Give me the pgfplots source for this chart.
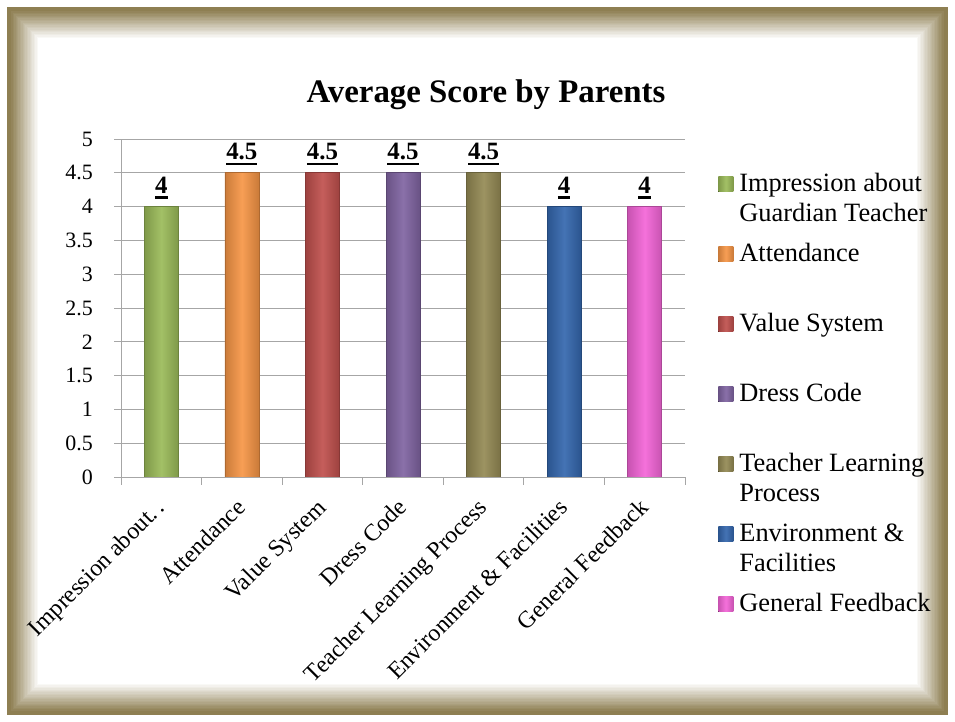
\documentclass[border=0pt]{standalone}
\usepackage{fontspec}
\setmainfont{Liberation Serif}
\usepackage{pgfplots}
\pgfplotsset{compat=1.18}
\definecolor{frame}{HTML}{8E7F52}
\definecolor{cimp}{HTML}{9BBB59}
\definecolor{catt}{HTML}{F79646}
\definecolor{cval}{HTML}{C0504D}
\definecolor{cdre}{HTML}{8064A2}
\definecolor{ctea}{HTML}{948A54}
\definecolor{cenv}{HTML}{3467AE}
\definecolor{cgen}{HTML}{F465D8}
\definecolor{gridc}{HTML}{A6A6A6}
% bold value with a heavy underline
\newcommand{\ulbf}[1]{\vtop{\hbox{\textbf{#1}}\kern2.5bp\hrule height 2.8bp}}
\pgfplotsset{
  bar3d/.style={bar shift=0pt, left color=#1!82!black, right color=#1!82!black,
    middle color=#1!92!white, draw=#1!70!black, line width=0.6bp},
}
\begin{document}
\begin{tikzpicture}[x=1bp,y=1bp]
\useasboundingbox (0,0) rectangle (955,722);
% parchment frame
\fill[white] (0,0) rectangle (955,722);
\fill[frame] (7,7) rectangle (948,715);
\foreach \i [evaluate=\i as \p using {int(100-5*\i)}] in {1,...,20}
  \fill[frame!\p!white] (10+1.4*\i,10+1.4*\i) rectangle (945-1.4*\i,712-1.4*\i);
\node[anchor=base, font=\bfseries\fontsize{33}{37}\selectfont] at (486,619) {Average Score by Parents};
\begin{axis}[
  at={(121bp,245bp)}, anchor=south west,
  scale only axis, width=564bp, height=338bp,
  ybar, bar width=34bp,
  xmin=-0.5, xmax=6.5, ymin=0, ymax=5,
  ytick={0,0.5,...,5},
  xtick={0,...,6},
  xticklabels={Impression about.\,., Attendance, Value System, Dress Code,
    Teacher Learning Process, Environment \& Facilities, General Feedback},
  major x tick style={draw=none},
  minor xtick={-0.5,0.5,...,6.5},
  axis lines*=left, axis line style={-, gridc, line width=0.9bp},
  ymajorgrids, grid style={gridc, line width=0.9bp},
  tick style={gridc, line width=0.9bp},
  tick align=outside, major tick length=7bp, minor tick length=8bp,
  /pgf/number format/assume math mode=true,
  yticklabel style={font=\fontsize{22}{26}\selectfont, inner sep=0pt, xshift=-21bp},
  xticklabel style={font=\fontsize{24}{28}\selectfont, xshift=-7bp, yshift=-13bp,
    rotate=45, anchor=north east, inner sep=0pt},
  nodes near coords={\ulbf{\pgfmathprintnumber{\pgfplotspointmeta}}},
  every node near coord/.append style={font=\fontsize{25}{28}\selectfont,
    anchor=base, inner sep=0pt, yshift=13bp},
  legend style={at={(rel axis cs:1.0535,0.912)}, anchor=north west,
    draw=none, fill=none, font=\fontsize{26.5}{30}\selectfont,
    row sep=0pt, column sep=3bp,
    nodes={text height=18bp, text depth=46bp, inner xsep=3bp, inner ysep=3bp, anchor=base west}},
  legend cell align=left,
  legend image code/.code={\fill[#1, draw=none] (0bp,0bp) rectangle (15bp,15bp);},
]
\addplot[bar3d=cimp] coordinates {(0,4)};
\addplot[bar3d=catt] coordinates {(1,4.5)};
\addplot[bar3d=cval] coordinates {(2,4.5)};
\addplot[bar3d=cdre] coordinates {(3,4.5)};
\addplot[bar3d=ctea] coordinates {(4,4.5)};
\addplot[bar3d=cenv] coordinates {(5,4)};
\addplot[bar3d=cgen] coordinates {(6,4)};
\legend{\parbox[t]{220bp}{Impression about\\Guardian Teacher}, Attendance, Value System, Dress Code,
  \parbox[t]{220bp}{Teacher Learning\\Process}, \parbox[t]{220bp}{Environment \&\\Facilities}, General Feedback}
\end{axis}
\end{tikzpicture}
\end{document}
